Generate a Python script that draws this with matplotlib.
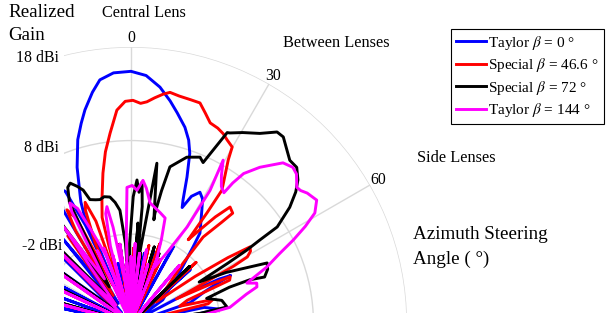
import numpy as np
import matplotlib
matplotlib.use('Agg')
import matplotlib.pyplot as plt
from matplotlib.patches import Rectangle
from matplotlib.lines import Line2D

plt.rcParams['font.family'] = 'Liberation Serif'
plt.rcParams['mathtext.fontset'] = 'stix'

RMIN, RMAX = -11.5, 18

# azimuth (deg) / realized gain (dBi)
blue_theta = [-90, -86, -82, -78, -74, -70, -66, -62, -58, -54, -50, -46, -42, -39, -36, -33, -31, -28.5, -26.5, -25,
              -24, -23, -23.5, -22.5, -21.4, -19.1, -16.2, -14, -12.2, -9.5, -7.3, -4, 0, 3.5, 7, 10, 12.4, 15.4, 17.5, 19.1,
              21, 22.9, 23.9, 25.5, 27.8, 30, 32, 35, 37.5, 39.2, 45, 50, 54, 58, 62, 63.5, 64.5, 65.5, 67, 71,
              74, 78, 81, 84, 88, 90]
blue_gain = [-12, -6, -12, -3, -12, -1, -12, 0, -11, 1, -9, 2, -10, 0, -8, -9, 3, 5, 4.2, 0,
             -8, -3, 1, 2.5, 3.5, 6.1, 8.9, 10.5, 11.8, 13.5, 14.7, 15.3, 15.4, 15.0, 13.9, 12.6, 11.5, 10.2, 9.0, 7.7,
             5.2, 2.8, 2.0, 3.5, 4.3, 3.8, 2.8, 1.5, 0.6, -1.0, -4.5, -6.5, -7.3, -11, -5, -1, 0.3, -1.5, -3, -4.8,
             -11, -3.5, -2, -6, -12, -12]

red_theta = [-90, -85, -80, -75, -70, -65, -60, -55, -50, -45, -40, -36, -33, -31, -29.5, -27.5, -26, -24, -22, -20.8,
             -19, -17, -16, -15.3, -13.3, -10.6, -8.5, -6.3, -3.8, -1.5, 0.5, 2.5, 4.1, 6, 8, 9.6, 12, 15, 17.4, 19.5,
             21.6, 24, 26, 27.7, 29.9, 30.8, 32.5, 34.4, 34.6, 34.5, 36, 38.5, 40.5, 42.8, 42, 40, 41, 45, 50, 54,
             56, 57.4, 59, 60.4, 61, 62, 64, 65, 66.5, 68, 71, 74, 76, 80, 83, 86, 90]
red_gain = [-12, -5, -12, -3, -12, -1, -12, 0, -10, 1, -9, 0, -8, 0, 2.4, 1, -7, -2, 1.5, 2.3,
            0, -9, -3, 0.2, 2.0, 4.8, 7, 8.9, 11.3, 12.2, 12.3, 12.0, 12.2, 12.7, 13.2, 13.5, 13.3, 13.2, 13.15, 12.3,
            11.5, 11.3, 11.0, 10.6, 10.2, 8.8, 7.2, 5.7, 2.8, -0.7, 0.5, 3, 4.8, 4.5, 3, 0.5, -3, -6, -8, -3,
            1, 3.6, 3.4, 2.8, 1, -6, -2, 0.2, 0, -5, -6, -2.4, -3, -12, -5, -12, -12]

black_theta = [-90, -84, -79, -74, -69, -64, -59, -54, -49, -44, -39, -35, -31, -27, -25, -23.5, -21.5, -19.8, -18.4, -16,
               -14.1, -12, -9.5, -7.5, -5.6, -4, -3, -1, 1, 2.4, 3.5, 4.5, 5.5, 6, 7.5, 9.2, 11, 12.5, 12.3, 13,
               14, 18.6, 22.6, 24.2, 26.8, 27.5, 30.4, 34.2, 37.4, 39.3, 42, 44.3, 46.8, 49.4, 51.5, 53.9, 56.7, 57.2, 57.8, 58.3,
               59, 62, 66.2, 68.5, 71, 70, 70, 72, 76, 80.5, 82, 85, 90]
black_gain = [-12, -4, -12, -2, -12, -1, -12, 1, -10, 2, -9, 2, -7, 3, 4.5, 4.8, 4.2, 3.6, 2.4, 2.2,
              2.1, 2.3, 2.15, 1.5, 0.6, -3, -9, -3, 2, 3.8, 2.5, 3.6, 1, -6, -3, 5.8, 1.9, -0.2, 0.5, 3,
              5.7, 7.2, 7.7, 7.3, 11.3, 11.4, 12.1, 13.0, 14.2, 14.2, 13.4, 12.8, 12.8, 12.0, 11, 9.5, 7.2, 4.9, 3.15, 0.7,
              -3, 0, 4.4, 4.2, 3.6, 2.0, -0.3, -3, -1.5, -1.1, -4, -12, -12]

magenta_theta = [-90, -85, -80, -75, -70, -65, -60, -55, -50, -45, -40, -35, -31, -28, -27, -25, -23, -20, -18, -15,
                 -13, -11.7, -10.6, -9, -6, -3, -1.7, 0.5, 2.6, 4.8, 6.5, 9, 14.8, 18, 20, 23, 27, 30.3, 30.8, 29.5,
                 31.5, 33.5, 35.5, 36, 37, 39.6, 43.5, 46.1, 48, 50.7, 52, 53.6, 56.5, 59.1, 61, 62.9, 65, 67.6, 71, 72.4,
                 74, 76, 81, 84, 88, 90]
magenta_gain = [-12, -4, -12, -2, -12, -1, -12, 0, -11, 1, -9, 1, -6, 2, 2.9, 2, -1, -4, -9, -3,
                0.5, 1.2, -1.1, -6, -8, -2, 3.0, 3.2, 2.7, 3.8, 3.0, 1.5, 0.7, 0.3, -2, -5, -3.1, 0.4, 5, 8.5,
                7, 6, 5.6, 7, 8.5, 10.1, 12.1, 12.5, 12.3, 11.4, 11.5, 11.9, 12.3, 11.4, 9.8, 8.0, 6.0, 4.2, 1.6, 2.6,
                2.5, 1.2, -0.8, -4, -12, -12]

# narrow null spikes near the origin
blue_spike_theta = [-12, -5, 4, 11, 18, 29, 40, 48]
blue_spike_gain = [-5, -6, -4.5, -3.9, -3.5, -2.2, -4, -3]
red_spike_theta = [-9, -4, 2, 6, 13, 20, 25, 47]
red_spike_gain = [-3, -4.5, -3.5, -5, -3, -2.5, -4, -2]
black_spike_theta = [-8, -2, 4, 8, 17, 22, 46]
black_spike_gain = [-3, -5, -0.8, -4, -3, -3.5, -2.8]
magenta_spike_theta = [-25, -20, -15, -8, -4, 0, 3, 7, 12, 16, 22, 40]
magenta_spike_gain = [-3, -3, -4, -3, -5, -4.4, -3, -4, -3.5, -5, -4, -3.5]

labels = ['Taylor $\\beta$ = 0 °', 'Special $\\beta$ = 46.6 °',
          'Special $\\beta$ = 72 °', 'Taylor $\\beta$ = 144 °']
colors = ['#0000ff', '#ff0000', 'black', '#ff00ff']

series = [(blue_theta, blue_gain, blue_spike_theta, blue_spike_gain),
          (red_theta, red_gain, red_spike_theta, red_spike_gain),
          (black_theta, black_gain, black_spike_theta, black_spike_gain),
          (magenta_theta, magenta_gain, magenta_spike_theta, magenta_spike_gain)]

W, H = 609, 313
cx, cy, rad = 131, 323, 276
fig = plt.figure(figsize=(W / 100, H / 100), dpi=100)
ax = fig.add_axes([(cx - rad) / W, (H - cy - rad) / H, 2 * rad / W, 2 * rad / H], projection='polar')
ax.set_theta_zero_location('N')
ax.set_theta_direction(-1)

lw = 2.1
for (th, g, sth, sg), c in zip(series, colors):
    ax.plot(np.deg2rad(th), np.clip(g, RMIN, None), color=c, lw=lw, solid_joinstyle='round')
    sth = np.asarray(sth, float)
    w = 1.2
    st = np.column_stack([sth - w, sth, sth + w]).ravel()
    sr = np.column_stack([np.full(len(sth), RMIN), sg, np.full(len(sth), RMIN)]).ravel()
    ax.plot(np.deg2rad(st), sr, color=c, lw=lw, solid_joinstyle='round')

ax.set_thetamin(-180)
ax.set_thetamax(180)
ax.set_rlim(RMIN, RMAX)
ax.set_rgrids([-2, 8, 18], labels=['', '', ''])
ax.set_thetagrids([-60, -30, 0, 30, 60, 90], labels=['', '', '0', '30', '60', ''])
ax.tick_params(axis='x', labelsize=11.3, pad=-4)
ax.grid(True, color='#d9d9d9', lw=1.0)
ax.spines['polar'].set_visible(False)
ax.set_facecolor('none')

# left part of the view is cut off
fig.add_artist(Rectangle((0, 0), 64 / W, 1, transform=fig.transFigure,
                         facecolor='white', edgecolor='none', zorder=5))

def ftext(x, y, s, **kw):
    kw.setdefault('zorder', 6)
    fig.text(x / W, 1 - y / H, s, **kw)

ftext(8, 17, 'Realized', fontsize=13.7, va='baseline')
ftext(8, 40, 'Gain', fontsize=13.7, va='baseline')
ftext(59, 62, '18 dBi', fontsize=11.4, ha='right', va='baseline')
ftext(59, 152, '8 dBi', fontsize=11.4, ha='right', va='baseline')
ftext(62, 250, '-2 dBi', fontsize=11.4, ha='right', va='baseline')
ftext(102, 17, 'Central Lens', fontsize=11.7, va='baseline')
ftext(283, 47, 'Between Lenses', fontsize=11.7, va='baseline')
ftext(417, 162, 'Side Lenses', fontsize=11.7, va='baseline')
ftext(413, 239, 'Azimuth Steering', fontsize=13.7, va='baseline')
ftext(413, 264, 'Angle ( °)', fontsize=13.7, va='baseline')

handles = [Line2D([], [], color=c, lw=lw) for c in colors]
leg = fig.legend(handles, labels, loc='upper left', bbox_to_anchor=(451 / W, 1 - 29 / H),
                 fontsize=11, frameon=True, fancybox=False, edgecolor='black', framealpha=1,
                 handlelength=2.0, handletextpad=0.15, labelspacing=0.3, borderpad=0.3,
                 borderaxespad=0)
leg.get_frame().set_linewidth(0.8)
leg.set_zorder(7)

fig.savefig('out.png', dpi=100)
